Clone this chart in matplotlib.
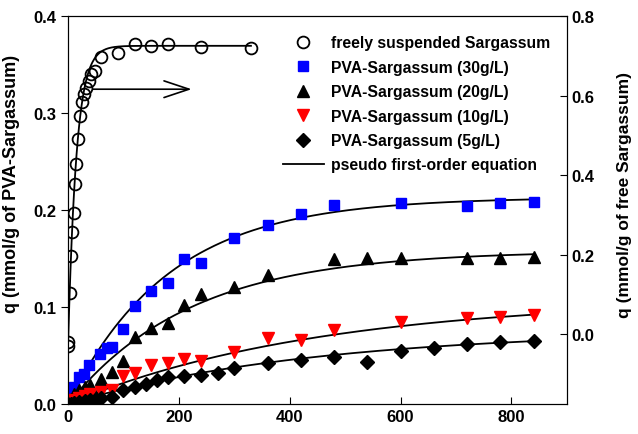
import numpy as np
import matplotlib
matplotlib.use("Agg")
import matplotlib.pyplot as plt

plt.rcParams['font.family'] = ['Liberation Sans', 'DejaVu Sans']
plt.rcParams['font.weight'] = 'bold'

# freely suspended Sargassum (right axis)
free_t = [0, 0, 4, 6, 8, 10, 13, 15, 18, 22, 25, 29, 33, 37, 42, 48, 60, 90, 120, 150, 180, 240, 330]
free_q = [-0.03, -0.02, 0.105, 0.196, 0.256, 0.306, 0.377, 0.427, 0.49, 0.548, 0.583, 0.603,
          0.62, 0.636, 0.653, 0.661, 0.698, 0.706, 0.729, 0.724, 0.729, 0.722, 0.72]

# PVA-Sargassum beads (left axis)
t30 = [0, 5, 10, 19, 29, 38, 58, 70, 80, 100, 120, 150, 180, 210, 240, 300, 360, 420, 480, 600, 720, 780, 840]
q30 = [0.0, 0.008, 0.018, 0.028, 0.031, 0.040, 0.052, 0.058, 0.059, 0.077, 0.101, 0.116, 0.125,
       0.149, 0.145, 0.171, 0.185, 0.196, 0.205, 0.207, 0.204, 0.207, 0.208]

t20 = [0, 5, 10, 20, 30, 40, 60, 80, 100, 120, 150, 180, 210, 240, 300, 360, 480, 540, 600, 720, 780, 840]
q20 = [0.0, 0.005, 0.010, 0.014, 0.018, 0.020, 0.026, 0.033, 0.044, 0.069, 0.078, 0.083, 0.102,
       0.113, 0.121, 0.133, 0.149, 0.150, 0.150, 0.151, 0.150, 0.152]

t10 = [0, 5, 10, 20, 30, 40, 60, 80, 100, 120, 150, 180, 210, 240, 300, 360, 420, 480, 600, 720, 780, 840]
q10 = [0.0, 0.002, 0.004, 0.006, 0.008, 0.010, 0.012, 0.014, 0.029, 0.032, 0.040, 0.042, 0.046,
       0.044, 0.054, 0.068, 0.066, 0.076, 0.085, 0.089, 0.090, 0.092]

t5 = [0, 5, 10, 20, 30, 40, 50, 60, 80, 100, 120, 140, 160, 180, 210, 240, 270, 300, 360, 420,
      480, 540, 600, 660, 720, 780, 840]
q5 = [0.0, 0.0, 0.001, 0.002, 0.003, 0.004, 0.005, 0.006, 0.0075, 0.0145, 0.018, 0.021, 0.025,
      0.028, 0.029, 0.030, 0.032, 0.037, 0.042, 0.045, 0.048, 0.043, 0.055, 0.058, 0.062, 0.064, 0.065]

# pseudo first-order fit parameters (qe, k)
fit_free = (0.725, 0.066, -0.03)
fit30 = (0.213, 0.0055)
fit20 = (0.158, 0.0045)
fit10 = (0.109, 0.00222)
fit5 = (0.076, 0.00228)

fig = plt.figure(figsize=(6.38, 4.35), dpi=100)
ax = fig.add_axes([0.1066, 0.069, 0.782, 0.892])
ax2 = ax.twinx()

tt = np.linspace(0, 840, 300)
for qe, k in [fit30, fit20, fit10, fit5]:
    ax.plot(tt, qe * (1 - np.exp(-k * tt)), color='black', lw=1.3, zorder=2)

ax.plot(t30, q30, 's', color='#0000ff', ms=7.5, mec='#0000ff', zorder=3)
ax.plot(t20, q20, '^', color='black', ms=8.5, zorder=3)
ax.plot(t10, q10, 'v', color='#ff0000', ms=8.5, zorder=3)
ax.plot(t5, q5, 'D', color='black', ms=7, zorder=3)

tf = np.linspace(0, 330, 300)
qe, k, q0 = fit_free
ax2.plot(tf, qe - (qe - q0) * np.exp(-k * tf), color='black', lw=1.3)
ax2.plot(free_t, free_q, 'o', mfc='none', mec='black', mew=1.3, ms=8.5)

ax.set_xlim(0, 900)
ax.set_ylim(0, 0.4)
ax2.set_ylim(-0.175, 0.8)
ax.set_xticks([0, 200, 400, 600, 800])
ax.set_yticks([0.0, 0.1, 0.2, 0.3, 0.4])
ax2.set_yticks([0.0, 0.2, 0.4, 0.6, 0.8])
ax.yaxis.set_major_formatter(matplotlib.ticker.FormatStrFormatter('%.1f'))
ax2.yaxis.set_major_formatter(matplotlib.ticker.FormatStrFormatter('%.1f'))
ax.tick_params(axis='x', direction='in', labelsize=12, length=5)
ax.tick_params(axis='y', direction='out', labelsize=12, length=5)
ax2.tick_params(axis='y', direction='in', labelsize=12, length=5)

ax.set_ylabel('q (mmol/g of PVA-Sargassum)', fontsize=13, fontweight='bold')
ax2.set_ylabel('q (mmol/g of free Sargassum)', fontsize=12.5, fontweight='bold')
ax.yaxis.set_label_coords(-0.096, 0.57)
ax2.yaxis.set_label_coords(1.1, 0.54)

ax2.annotate('', xy=(223, 0.3245), xytext=(45, 0.3245), xycoords=ax.transData,
             arrowprops=dict(arrowstyle='->,head_length=1.8,head_width=0.6', lw=1.2,
                             color='black', shrinkA=0, shrinkB=0))

h = [
    plt.Line2D([], [], ls='none', marker='o', mfc='none', mec='black', mew=1.3, ms=8.5),
    plt.Line2D([], [], ls='none', marker='s', color='#0000ff', ms=7.5),
    plt.Line2D([], [], ls='none', marker='^', color='black', ms=8.5),
    plt.Line2D([], [], ls='none', marker='v', color='#ff0000', ms=8.5),
    plt.Line2D([], [], ls='none', marker='D', color='black', ms=7),
    plt.Line2D([], [], color='black', lw=1.3),
]
labels = ['freely suspended Sargassum', 'PVA-Sargassum (30g/L)', 'PVA-Sargassum (20g/L)',
          'PVA-Sargassum (10g/L)', 'PVA-Sargassum (5g/L)', 'pseudo first-order equation']
ax2.legend(h, labels, loc='upper left', bbox_to_anchor=(0.431, 0.95), frameon=False,
           handlelength=2.6, handletextpad=0.45, labelspacing=0.6,
           borderpad=0, borderaxespad=0, prop={'weight': 'bold', 'size': 11.3})

fig.savefig('out.png', dpi=100)
